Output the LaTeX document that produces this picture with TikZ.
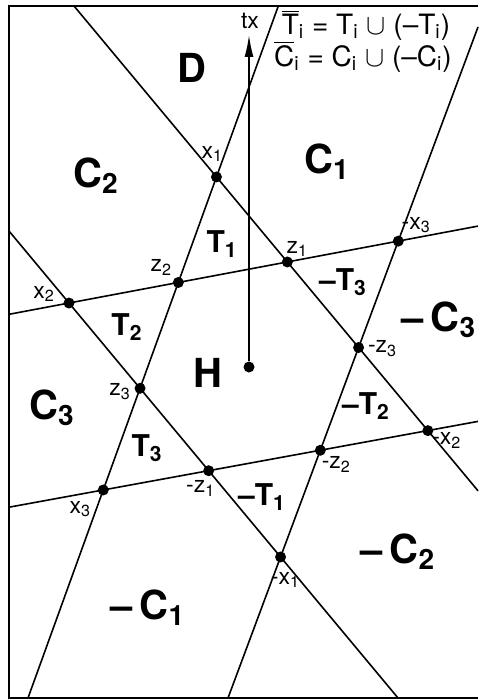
\documentclass[tikz,border=0pt]{standalone}
\usepackage{fontspec}
\setmainfont{TeX Gyre Heros}
\usetikzlibrary{arrows.meta,calc}
\newcommand{\subi}[1]{\textsubscript{#1}}
\tikzset{
  frame/.style={line width=1pt, draw=black},
  edge/.style={line width=0.8pt, draw=black},
  dot/.style={circle, fill=black, inner sep=0pt, minimum size=5.5pt},
  ray/.style={-{Latex[length=11pt,width=4.5pt]}, line width=0.8pt},
  ptlab/.style={font=\fontsize{11.5}{13}\selectfont, inner sep=0pt},
  region/.style={font=\fontsize{20}{24}\selectfont\bfseries, inner sep=0pt},
  tregion/.style={font=\fontsize{15}{18}\selectfont\bfseries, inner sep=0pt},
  legend/.style={font=\fontsize{14}{17}\selectfont, inner sep=0pt}
}

\begin{document}
\begin{tikzpicture}[x=0.5pt,y=-0.5pt]
  \useasboundingbox (0,0) rectangle (478,700);
  \draw[frame] (478,6) -- (9,6) -- (9,698) -- (478,698);

  % ends of the six lines on the frame
  \coordinate (a1) at (74,6);     \coordinate (a2) at (478,490.8);
  \coordinate (b1) at (9,231);    \coordinate (b2) at (398,698);
  \coordinate (c1) at (278.3,6);  \coordinate (c2) at (28,698);
  \coordinate (d1) at (478,27);   \coordinate (d2) at (228,698);
  \coordinate (e1) at (9,314.3);  \coordinate (e2) at (478,226.1);
  \coordinate (f1) at (9,507.2);  \coordinate (f2) at (478,421.4);
  \foreach \l in {a,b,c,d,e,f} \draw[edge] (\l1) -- (\l2);

  % crossing points
  \node[dot] (x1)  at (intersection of a1--a2 and c1--c2) {};
  \node[dot] (z1)  at (intersection of a1--a2 and e1--e2) {};
  \node[dot] (mz3) at (intersection of a1--a2 and d1--d2) {};
  \node[dot] (mx2) at (intersection of a1--a2 and f1--f2) {};
  \node[dot] (x2)  at (intersection of b1--b2 and e1--e2) {};
  \node[dot] (z3)  at (intersection of b1--b2 and c1--c2) {};
  \node[dot] (mz1) at (intersection of b1--b2 and f1--f2) {};
  \node[dot] (mx1) at (intersection of b1--b2 and d1--d2) {};
  \node[dot] (z2)  at (intersection of c1--c2 and e1--e2) {};
  \node[dot] (x3)  at (intersection of c1--c2 and f1--f2) {};
  \node[dot] (mx3) at (intersection of d1--d2 and e1--e2) {};
  \node[dot] (mz2) at (intersection of d1--d2 and f1--f2) {};

  \node[ptlab] (lx1)  at ($(x1)+(-4,-23)$)  {x\subi{1}};
  \node[ptlab] (lz1)  at ($(z1)+(10,-13)$)  {z\subi{1}};
  \node[ptlab] (lmz3) at ($(mz3)+(24,1)$)   {-z\subi{3}};
  \node[ptlab] (lmx2) at ($(mx2)+(19,10)$)  {-x\subi{2}};
  \node[ptlab] (lx2)  at ($(x2)+(-25,-9)$)  {x\subi{2}};
  \node[ptlab] (lz3)  at ($(z3)+(-20,3)$)   {z\subi{3}};
  \node[ptlab] (lmz1) at ($(mz1)+(-8,18)$)  {-z\subi{1}};
  \node[ptlab] (lmx1) at ($(mx1)+(5,23)$)   {-x\subi{1}};
  \node[ptlab] (lz2)  at ($(z2)+(-17,-15)$) {z\subi{2}};
  \node[ptlab] (lx3)  at ($(x3)+(-23,19)$)  {x\subi{3}};
  \node[ptlab] (lmx3) at ($(mx3)+(18,-16)$) {-x\subi{3}};
  \node[ptlab] (lmz2) at ($(mz2)+(16,14)$)  {-z\subi{2}};

  % origin and direction
  \node[dot] (org) at (249,367) {};
  \coordinate (tip) at (249,35);
  \draw[ray] (org) -- (tip);
  \node[ptlab] (tx) at (250,21) {tx};

  % regions
  \node[region] (rD)   at (192,68)  {D};
  \node[region] (rH)   at (208,373) {H};
  \node[region] (rC1)  at (327,162) {C\subi{1}};
  \node[region] (rC2)  at (96,176)  {C\subi{2}};
  \node[region] (rC3)  at (52,408)  {C\subi{3}};
  \node[region] (rmC1) at (148,608) {--\,C\subi{1}};
  \node[region] (rmC2) at (398,552) {--\,C\subi{2}};
  \node[region] (rmC3) at (439,320) {--\,C\subi{3}};
  \node[tregion] (rT1)  at (222,244) {T\subi{1}};
  \node[tregion] (rT2)  at (127,327) {T\subi{2}};
  \node[tregion] (rT3)  at (147,448) {T\subi{3}};
  \node[tregion] (rmT1) at (262,497) {--T\subi{1}};
  \node[tregion] (rmT2) at (366,406) {--T\subi{2}};
  \node[tregion] (rmT3) at (343,282) {--T\subi{3}};

  \node[legend] (leg1) at (366,25) {$\overline{\mbox{T}}$\subi{i} = T\subi{i} $\cup$ (--T\subi{i})};
  \node[legend] (leg2) at (363,57) {$\overline{\mbox{C}}$\subi{i} = C\subi{i} $\cup$ (--C\subi{i})};
\end{tikzpicture}
\end{document}
